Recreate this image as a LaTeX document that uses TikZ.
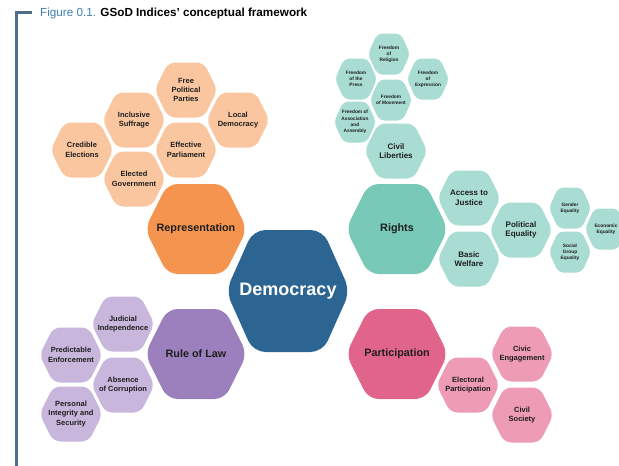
\documentclass[tikz,border=0pt]{standalone}
\usepackage{fontspec}
\setmainfont{Liberation Sans}
\definecolor{orL}{HTML}{FAC6A0}
\definecolor{orD}{HTML}{F4944F}
\definecolor{teL}{HTML}{A9DCD3}
\definecolor{teD}{HTML}{79C9B9}
\definecolor{puL}{HTML}{C8B6DC}
\definecolor{puD}{HTML}{9C80BD}
\definecolor{piL}{HTML}{EE9BB5}
\definecolor{piD}{HTML}{E1658A}
\definecolor{demo}{HTML}{2D6592}
\definecolor{frame}{HTML}{4F6E8C}
\definecolor{figc}{HTML}{3E7FB0}
\definecolor{txt}{HTML}{1E1E1E}
\newcommand\hexcell[9]{%
  \fill[#7, rounded corners=#6] ({#2-#4},#3) -- ({#2-0.56*#4},{#3-#5}) -- ({#2+0.56*#4},{#3-#5})
    -- ({#2+#4},#3) -- ({#2+0.56*#4},{#3+#5}) -- ({#2-0.56*#4},{#3+#5}) -- cycle;
  \node[#8] (#1) at (#2,#3) {#9};}
\tikzset{
  tiny/.style={align=center, text=txt, font=\fontsize{4.8}{6.2}\selectfont\bfseries, inner sep=0pt},
  small/.style={align=center, text=txt, font=\fontsize{7.5}{9.4}\selectfont\bfseries, inner sep=0pt},
  mid/.style={align=center, text=txt, font=\fontsize{8}{9.6}\selectfont\bfseries, inner sep=0pt},
  big/.style={align=center, text=txt, font=\fontsize{10.8}{12}\selectfont\bfseries, inner sep=0pt},
  huge/.style={align=center, text=white, font=\fontsize{18}{20}\selectfont\bfseries, inner sep=0pt},
}
\begin{document}
\begin{tikzpicture}[x=1pt,y=-1pt]
\useasboundingbox (0,0) rectangle (619,466);
% frame
\coordinate (fa) at (32,12.5);
\coordinate (fb) at (16.5,12.5);
\coordinate (fc) at (16.5,466);
\draw[frame, line width=2.6pt] (fa) -- (fb) -- (fc);
\node[anchor=base west, inner sep=0pt, font=\fontsize{11.7}{13}\selectfont] (title) at (40,16)
  {\textcolor{figc}{Figure 0.1.} \textbf{GSoD Indices’ conceptual framework}};
% Representation cluster
\hexcell{fpp}{186}{90}{31.5}{27.5}{7pt}{orL}{small}{Free\\Political\\Parties}
\hexcell{isu}{134}{120}{31.5}{27.5}{7pt}{orL}{small}{Inclusive\\Suffrage}
\hexcell{lde}{238}{120}{31.5}{27.5}{7pt}{orL}{small}{Local\\Democracy}
\hexcell{cel}{82}{150}{31.5}{27.5}{7pt}{orL}{small}{Credible\\Elections}
\hexcell{epa}{186}{150}{31.5}{27.5}{7pt}{orL}{small}{Effective\\Parliament}
\hexcell{ego}{134}{179}{31.5}{27.5}{7pt}{orL}{small}{Elected\\Government}
\hexcell{rep}{196}{229}{51}{45}{10pt}{orD}{big}{Representation}
% Rights cluster
\hexcell{frel}{389}{54}{21}{20.5}{5pt}{teL}{tiny}{Freedom\\of\\Religion}
\hexcell{fpre}{356}{79}{21}{20.5}{5pt}{teL}{tiny}{Freedom\\of the\\Press}
\hexcell{fexp}{428}{79}{21}{20.5}{5pt}{teL}{tiny}{Freedom\\of\\Expression}
\hexcell{fmov}{391}{100}{21}{20.5}{5pt}{teL}{tiny}{Freedom\\of Movement}
\hexcell{fass}{355}{122}{21}{20.5}{5pt}{teL}{tiny}{Freedom of\\Association\\and\\Assembly}
\hexcell{cli}{396}{151}{31.5}{27.5}{7pt}{teL}{mid}{Civil\\Liberties}
\hexcell{rig}{397}{229}{51}{45}{10pt}{teD}{big}{Rights}
\hexcell{acj}{469}{198}{31.5}{27.5}{7pt}{teL}{mid}{Access to\\Justice}
\hexcell{bwe}{469}{259}{31.5}{27.5}{7pt}{teL}{mid}{Basic\\Welfare}
\hexcell{peq}{521}{230}{31.5}{27.5}{7pt}{teL}{mid}{Political\\Equality}
\hexcell{geq}{570}{208}{21}{20.5}{5pt}{teL}{tiny}{Gender\\Equality}
\hexcell{sgeq}{570}{252}{21}{20.5}{5pt}{teL}{tiny}{Social\\Group\\Equality}
\hexcell{eeq}{606}{229}{21}{20.5}{5pt}{teL}{tiny}{Economic\\Equality}
% Rule of Law cluster
\hexcell{jin}{123}{324}{31.5}{27.5}{7pt}{puL}{small}{Judicial\\Independence}
\hexcell{pen}{71}{355}{31.5}{27.5}{7pt}{puL}{small}{Predictable\\Enforcement}
\hexcell{aco}{123}{385}{31.5}{27.5}{7pt}{puL}{small}{Absence\\of Corruption}
\hexcell{pis}{71}{414}{31.5}{27.5}{7pt}{puL}{small}{Personal\\Integrity and\\Security}
\hexcell{rol}{196}{354}{51}{45}{10pt}{puD}{big}{Rule of Law}
% Participation cluster
\hexcell{par}{397}{354}{51}{45}{10pt}{piD}{big}{Participation}
\hexcell{cen}{522}{354}{31.5}{27.5}{7pt}{piL}{small}{Civic\\Engagement}
\hexcell{epar}{468}{385}{31.5}{27.5}{7pt}{piL}{small}{Electoral\\Participation}
\hexcell{cso}{522}{415}{31.5}{27.5}{7pt}{piL}{small}{Civil\\Society}
% Democracy
\hexcell{dem}{288}{291}{62}{61}{12pt}{demo}{huge}{Democracy}
\end{tikzpicture}
\end{document}
